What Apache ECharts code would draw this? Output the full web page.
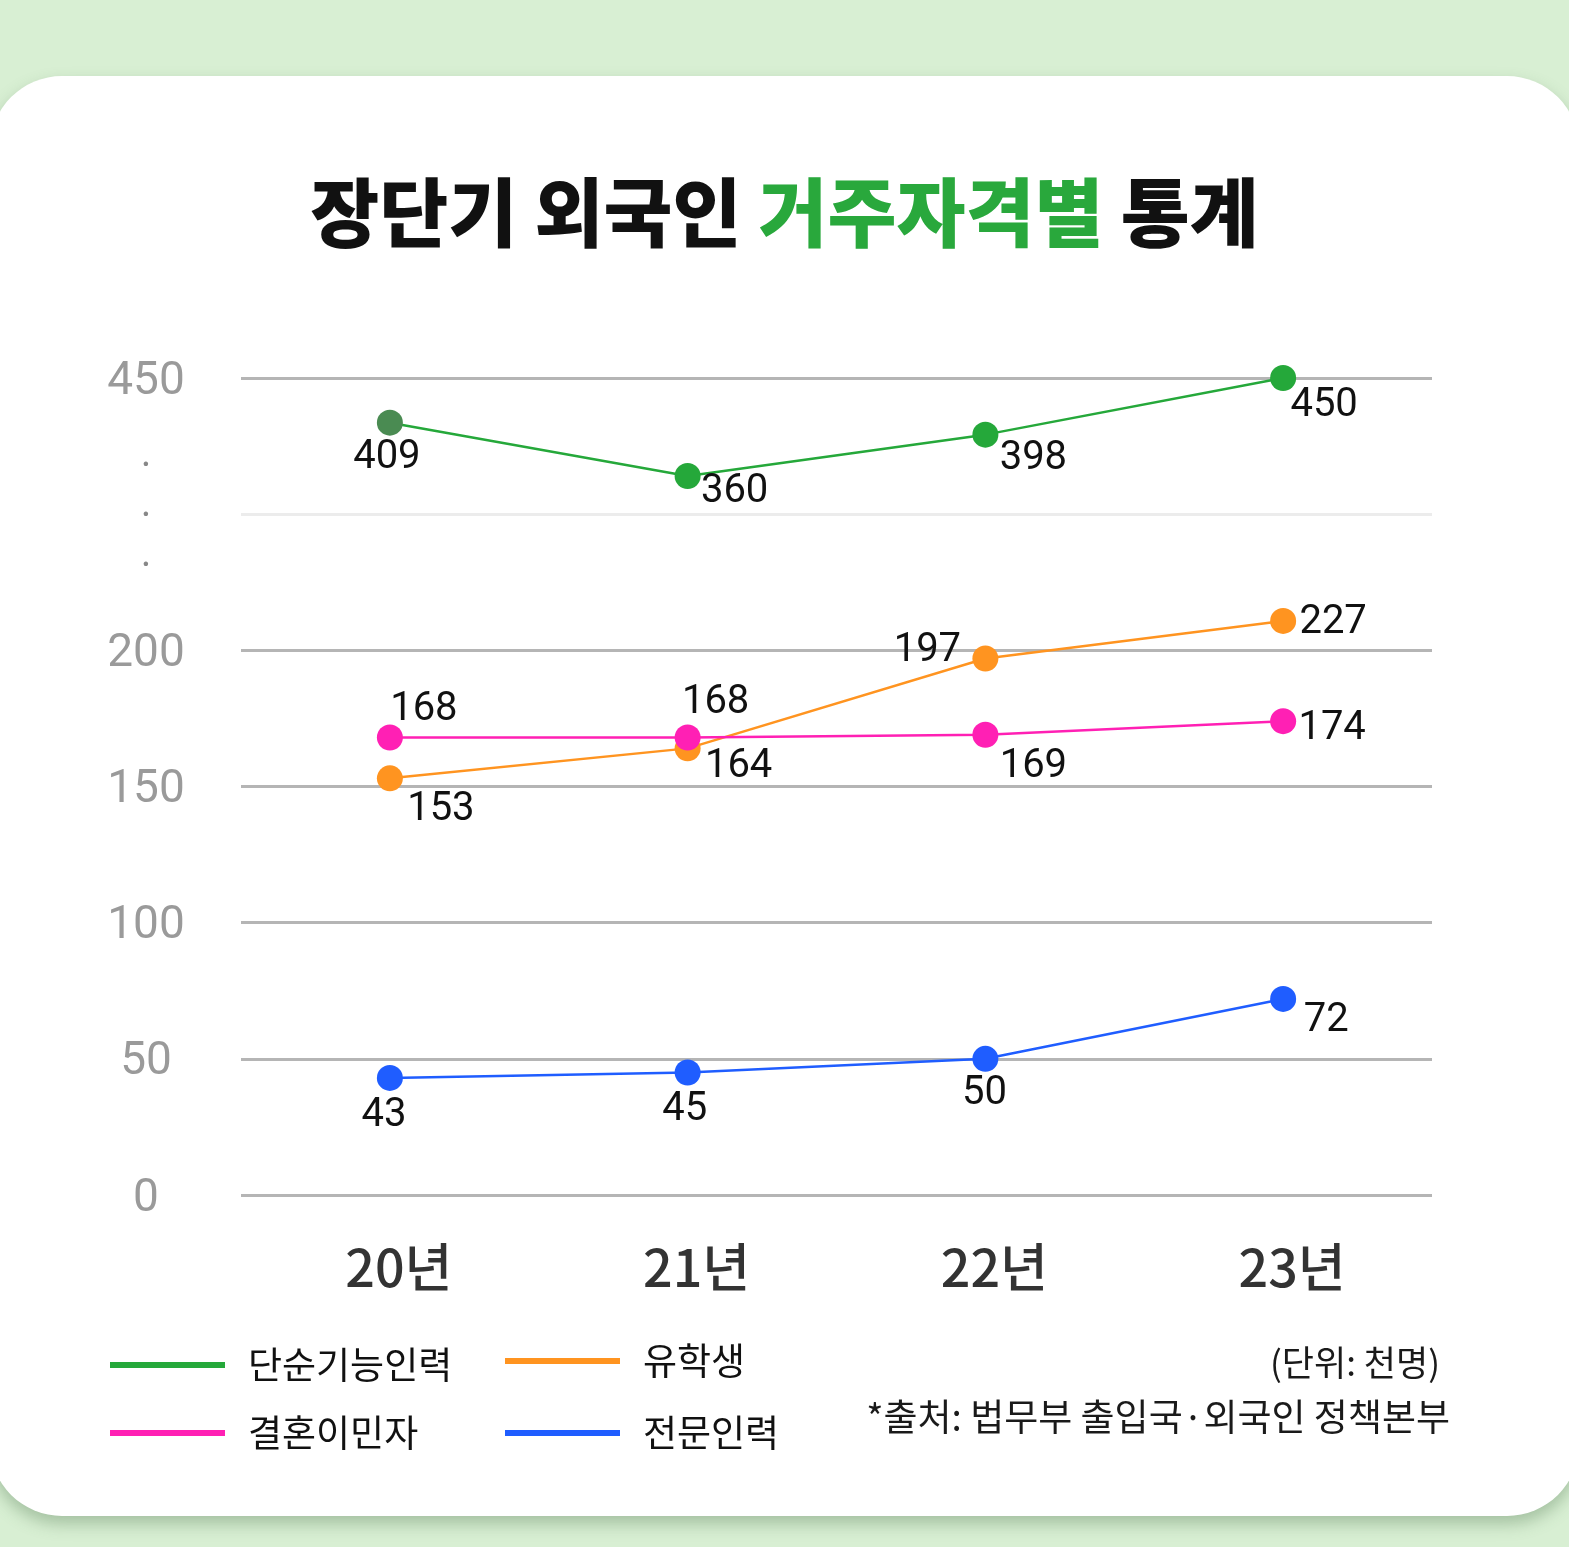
<!DOCTYPE html>
<html>
<head>
<meta charset="utf-8">
<script src="https://cdn.jsdelivr.net/npm/echarts@6/dist/echarts.min.js"></script>
<style>
  html, body { margin: 0; padding: 0; background: #d8efd3; }
  #chart { width: 1569px; height: 1547px; }
</style>
</head>
<body>
<div id="chart"></div>
<script>
// categories and values (단위: 천명)
var years = ['20년', '21년', '22년', '23년'];
var seriesNames = ['단순기능인력', '유학생', '결혼이민자', '전문인력'];
var simpleLabor = [409, 360, 398, 450];
var students = [153, 164, 197, 227];
var marriage = [168, 168, 169, 174];
var professional = [43, 45, 50, 72];
// y tick labels (broken axis: 250 slot is the break)
var yTickLabels = { 0: '0', 50: '50', 100: '100', 150: '150', 200: '200', 250: 'break', 300: '450' };

var colors = ['#25a83a', '#ff9420', '#ff20b4', '#1f5dff'];

// label offsets relative to the point [dx, dy]
var labelOffsets = [
  [[-3, 35], [47, 16], [48, 24], [41, 28]],
  [[51, 32], [51, 19], [-58, -8], [50, 2]],
  [[34, -27], [28, -34], [48, 32], [49, 8]],
  [[-6, 38], [-3, 38], [-1, 35], [43, 22]]
];

// axis break above 200: everything over 200 is squeezed
function toAxis(v) {
  return v <= 200 ? v : 200 + (v - 200) * 0.4;
}

function makeData(vals, si) {
  return vals.map(function (v, i) {
    var item = {
      value: toAxis(v),
      real: v,
      label: { offset: labelOffsets[si][i] }
    };
    if (si === 0 && i === 0) item.itemStyle = { color: '#4a8b52' };
    return item;
  });
}

var allVals = [simpleLabor, students, marriage, professional];
var series = [];
for (var i = 0; i < allVals.length; ++i) {
  series.push({
    name: seriesNames[i],
    type: 'line',
    data: makeData(allVals[i], i),
    symbol: 'circle',
    symbolSize: 26,
    z: 10 - i,
    lineStyle: { width: 2.5, color: colors[i] },
    itemStyle: { color: colors[i] },
    label: {
      show: true,
      position: 'inside',
      fontFamily: 'Roboto',
      fontSize: 40,
      color: '#111',
      formatter: function (p) { return p.data.real; }
    }
  });
}
// pink on top of orange like the reference
series[2].z = 12;

var chart = echarts.init(document.getElementById('chart'));
var option = {
  backgroundColor: '#d8efd3',
  color: colors,
  animation: false,
  graphic: [{
    type: 'rect',
    z: -100,
    shape: { x: -10, y: 76, width: 1589, height: 1440, r: 72 },
    style: {
      fill: '#fff',
      shadowBlur: 16,
      shadowOffsetY: 8,
      shadowColor: 'rgba(70, 110, 70, 0.35)'
    }
  }, {
    type: 'text',
    right: 129,
    top: 1345,
    style: {
      text: '(단위: 천명)',
      font: '35px "Noto Sans CJK KR"',
      fill: '#1a1a1a'
    }
  }, {
    type: 'text',
    right: 119,
    top: 1398,
    style: {
      text: '*출처: 법무부 출입국·외국인 정책본부',
      font: '37px "Noto Sans CJK KR"',
      fill: '#1a1a1a'
    }
  }],
  title: {
    text: '{a|장단기 외국인 }{b|거주자격별}{a| 통계}',
    left: 'center',
    top: 161,
    textStyle: {
      rich: {
        a: { fontFamily: 'Noto Sans CJK KR', fontWeight: 900, fontSize: 75, color: '#111', lineHeight: 92 },
        b: { fontFamily: 'Noto Sans CJK KR', fontWeight: 900, fontSize: 75, color: '#29a83c', lineHeight: 92 }
      }
    }
  },
  legend: [{
    data: [seriesNames[0], seriesNames[2]],
    orient: 'vertical',
    left: 105,
    top: 1340,
    icon: 'rect',
    itemWidth: 115,
    itemHeight: 6,
    itemGap: 28,
    textStyle: {
      fontFamily: 'Noto Sans CJK KR',
      fontSize: 37,
      color: '#111',
      lineHeight: 40,
      padding: [0, 0, 0, 18]
    }
  }, {
    data: [seriesNames[1], seriesNames[3]],
    orient: 'vertical',
    left: 500,
    top: 1336,
    icon: 'rect',
    itemWidth: 115,
    itemHeight: 6,
    itemGap: 32,
    textStyle: {
      fontFamily: 'Noto Sans CJK KR',
      fontSize: 37,
      color: '#111',
      lineHeight: 40,
      padding: [0, 0, 0, 18]
    }
  }],
  grid: {
    left: 241,
    right: 137,
    top: 378,
    bottom: 352
  },
  xAxis: {
    type: 'category',
    data: years,
    boundaryGap: true,
    axisLine: { show: false },
    axisTick: { show: false },
    axisLabel: {
      margin: 46,
      fontFamily: 'Noto Sans CJK KR',
      fontWeight: 500,
      fontSize: 52,
      color: '#333',
      padding: [0, 0, 0, 18]
    }
  },
  yAxis: {
    type: 'value',
    min: 0,
    max: 300,
    interval: 50,
    axisLine: { show: false },
    axisTick: { show: false },
    splitLine: {
      lineStyle: {
        width: 3,
        color: ['#b5b5b5', '#b5b5b5', '#b5b5b5', '#b5b5b5', '#b5b5b5', '#ececec', '#b5b5b5']
      }
    },
    axisLabel: {
      margin: 95,
      align: 'center',
      fontFamily: 'Roboto',
      fontSize: 46,
      color: '#9a9a9a',
      padding: [8, 0, 0, 0],
      formatter: function (v) {
        var t = yTickLabels[v];
        if (t === 'break') return '{d|·}\n{d|·}\n{d|·}';
        return t == null ? '' : t;
      },
      rich: {
        d: { fontSize: 40, lineHeight: 50, color: '#888', fontFamily: 'Roboto' }
      }
    }
  },
  series: series
};
chart.setOption(option);
</script>
</body>
</html>
